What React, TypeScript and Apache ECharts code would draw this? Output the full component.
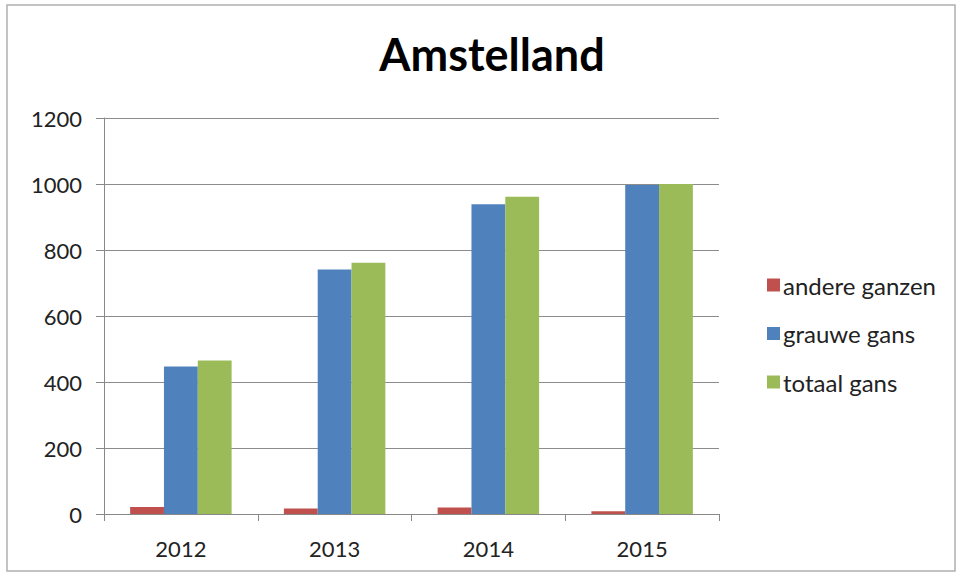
import React, { useEffect, useRef } from "react";
import * as echarts from "echarts";

const years = ["2012", "2013", "2014", "2015"];
const andereGanzen = [21, 17, 20, 8];
const grauweGans = [447, 741, 939, 997];
const totaalGans = [465, 761, 961, 1000];
const yTicks = [0, 200, 400, 600, 800, 1000, 1200];

const FONT = "Lato, 'Open Sans', sans-serif";

export default function App() {
  const ref = useRef<HTMLDivElement>(null);
  useEffect(() => {
    document.body.style.margin = "0";
    const chart = echarts.init(ref.current!, null, { renderer: "svg" });
    chart.setOption({
      animation: false,
      backgroundColor: "#ffffff",
      textStyle: { fontFamily: FONT },
      title: {
        text: "Amstelland",
        left: 487,
        top: 26,
        textAlign: "center",
        textStyle: { fontSize: 45, fontWeight: "bold", color: "#000", fontFamily: FONT },
      },
      graphic: [
        {
          type: "rect",
          shape: { x: 7, y: 5, width: 948, height: 566 },
          style: { fill: "none", stroke: "#b0b0b0", lineWidth: 1.5 },
          silent: true,
        },
      ],
      legend: {
        orient: "vertical",
        left: 762,
        top: 268,
        itemWidth: 13,
        itemHeight: 13,
        itemGap: 24.5,
        icon: "rect",
        textStyle: { fontSize: 24, lineHeight: 24, color: "#222", fontFamily: FONT, padding: [0, 0, 0, -2] },
        data: ["andere ganzen", "grauwe gans", "totaal gans"],
      },
      grid: { left: 104, right: 241, top: 118, bottom: 62, containLabel: false },
      xAxis: {
        type: "category",
        data: years,
        axisLine: { lineStyle: { color: "#888" } },
        axisTick: { show: true, length: 7, lineStyle: { color: "#888" } },
        axisLabel: { fontSize: 22, color: "#222", margin: 23, fontFamily: FONT },
      },
      yAxis: {
        type: "value",
        min: yTicks[0],
        max: yTicks[yTicks.length - 1],
        interval: 200,
        axisLine: { show: true, lineStyle: { color: "#888" } },
        axisTick: { show: true, length: 8, lineStyle: { color: "#888" } },
        axisLabel: { fontSize: 22, color: "#222", margin: 22, fontFamily: FONT, formatter: (v: number) => String(v) },
        splitLine: { lineStyle: { color: "#8c8c8c", width: 1 } },
      },
      series: [
        { name: "andere ganzen", type: "bar", data: andereGanzen, itemStyle: { color: "#C0504D" }, barGap: "0%", barCategoryGap: "34%" },
        { name: "grauwe gans", type: "bar", data: grauweGans, itemStyle: { color: "#4F81BD" }, barGap: "0%", barCategoryGap: "34%" },
        { name: "totaal gans", type: "bar", data: totaalGans, itemStyle: { color: "#9BBB59" }, barGap: "0%", barCategoryGap: "34%" },
      ],
    });
    return () => chart.dispose();
  }, []);
  return <div ref={ref} style={{ width: 960, height: 576, position: "absolute", left: 0, top: 0 }} />;
}
